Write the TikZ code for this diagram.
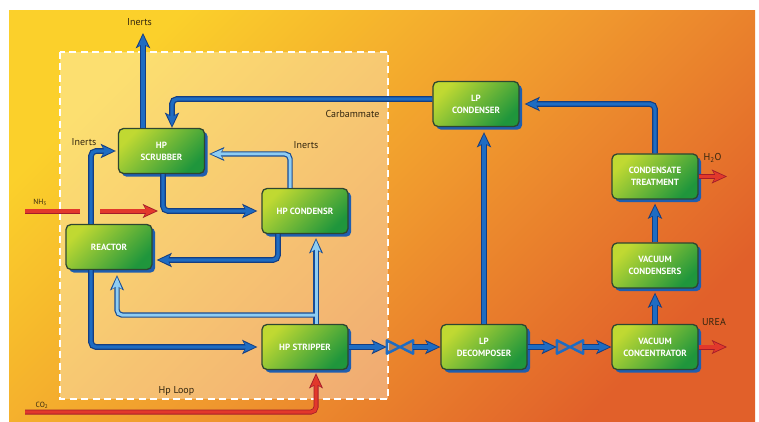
\documentclass[tikz,border=0pt]{standalone}
\usepackage{fontspec}
\setmainfont{PT Sans}
\usetikzlibrary{arrows.meta,shadows,calc}

\definecolor{flowblue}{HTML}{1E6CC2}
\definecolor{flowdark}{HTML}{143E82}
\definecolor{lightflow}{HTML}{8FCDF2}
\definecolor{redflow}{HTML}{E2382B}
\definecolor{reddark}{HTML}{A31C2A}
\definecolor{boxlight}{HTML}{C0D932}
\definecolor{boxdark}{HTML}{1F963C}
\definecolor{boxedge}{HTML}{2E4630}
\definecolor{shadowblue}{HTML}{1F5EB0}
\definecolor{labeltext}{HTML}{33260F}
\definecolor{bgyellow}{HTML}{FBD02B}
\definecolor{bgmid}{HTML}{F09A2E}
\definecolor{bgorange}{HTML}{E1602A}

\tikzset{
  box/.style={rectangle, rounded corners=5pt, draw=boxedge, line width=1.3pt,
    minimum width=86pt, minimum height=45pt, inner sep=1pt,
    top color=boxlight, bottom color=boxdark, shading angle=45,
    text=white, font=\bfseries\fontsize{9}{11.8}\selectfont, align=center,
    general shadow={fill=shadowblue, shadow xshift=3.2pt, shadow yshift=-3.2pt}},
  valve/.style={rectangle, minimum width=26pt, minimum height=13pt, inner sep=0pt},
  valveline/.style={draw=flowblue, line width=2.4pt, line join=round, fill=flowblue, fill opacity=0.2},
  lbl/.style={text=labeltext, font=\fontsize{10}{12}\selectfont, inner sep=0pt},
  small/.style={text=labeltext, font=\fontsize{7.5}{9}\selectfont, inner sep=0pt},
  bout/.style={draw=flowdark, line width=5.8pt, rounded corners=5pt,
    -{Stealth[length=15pt,width=14pt,inset=3.5pt]}},
  bin/.style={draw=flowblue, line width=3.4pt, rounded corners=5pt,
    -{Stealth[length=11.5pt,width=10pt,inset=2.6pt]}},
  lout/.style={draw=flowdark!70!flowblue, line width=5.4pt, rounded corners=5pt,
    -{Stealth[length=15pt,width=13.5pt,inset=3.5pt]}},
  lin/.style={draw=lightflow, line width=3pt, rounded corners=5pt,
    -{Stealth[length=11.5pt,width=9.5pt,inset=2.6pt]}},
  rout/.style={draw=reddark, line width=5pt, rounded corners=5pt,
    -{Stealth[length=15pt,width=13.5pt,inset=3.5pt]}},
  rin/.style={draw=redflow, line width=3.4pt, rounded corners=5pt,
    -{Stealth[length=11.5pt,width=10pt,inset=2.6pt]}},
}

\newcommand\bflow[2][0]{%
  \draw[bout, shorten >=#1pt] #2;
  \draw[bin, shorten >=#1pt+1.9pt] #2;}
\newcommand\lflow[2][0]{%
  \draw[lout, shorten >=#1pt] #2;
  \draw[lin, shorten >=#1pt+1.9pt] #2;}
\newcommand\rflow[2][0]{%
  \draw[rout, shorten >=#1pt] #2;
  \draw[rin, shorten >=#1pt+1.9pt] #2;}

\begin{document}
\begin{tikzpicture}[x=1pt,y=-1pt]
\useasboundingbox (0,0) rectangle (759,422);
\fill[white] (0,0) rectangle (759,422);
\shade[top color=bgyellow, bottom color=bgorange, middle color=bgmid, shading angle=45]
  (9,11) rectangle (755,422);

% HP loop area
\draw[white, line width=2.6pt, dash pattern=on 7pt off 4.5pt, fill=white, fill opacity=0.33]
  (60,52) rectangle (388,399);

% equipment
\node[box] (scrub) at (161.5,151) {HP\\SCRUBBER};
\node[box] (cond)  at (305,211) {HP CONDENSR};
\node[box] (reac)  at (109,247) {REACTOR};
\node[box] (strip) at (305,347) {HP STRIPPER};
\node[box] (lpc)   at (476,104) {LP\\CONDENSER};
\node[box] (ct)    at (655,176.5) {CONDENSATE\\TREATMENT};
\node[box] (vcd)   at (655,265.5) {VACUUM\\CONDENSERS};
\node[box] (lpd)   at (484,347) {LP\\DECOMPOSER};
\node[box] (vcc)   at (655,347) {VACUUM\\CONCENTRATOR};

% valves
\node[valve] (v1) at (400,347) {};
\node[valve] (v2) at (570,347) {};
\draw[valveline] (v1.north west) -- (v1.south east) -- (v1.north east) -- (v1.south west) -- cycle;
\draw[valveline] (v2.north west) -- (v2.south east) -- (v2.north east) -- (v2.south west) -- cycle;

% coordinates
\coordinate (inTop) at (143,33);
\coordinate (carb) at (172,99);
\coordinate (rsA) at (91,151);
\coordinate (scA) at (163,211);
\coordinate (csA) at (290,154);
\coordinate (crA) at (278,260);
\coordinate (scX) at (316,315);
\coordinate (brA) at (117,315);
\coordinate (h2o) at (727,176.5);
\coordinate (urea) at (727,347);
\coordinate (nhA) at (25,211);
\coordinate (nhB) at (80,211);
\coordinate (nhC) at (100,211);
\coordinate (nhD) at (158,211);
\coordinate (coA) at (25,412);
\coordinate (coB) at (316,412);

% blue flows
\bflow{(scrub.north -| inTop) -- (inTop)}
\bflow{(lpc.west |- carb) -- (carb) -- (scrub.north -| carb)}
\bflow[2]{(reac.north -| rsA) -- (rsA) -- (scrub.west)}
\bflow[4]{(scrub.south -| scA) -- (scA) -- (cond.west)}
\lflow[4]{(cond.north -| csA) -- (csA) -- (scrub.east |- csA)}
\bflow[4]{(cond.south -| crA) -- (crA) -- (reac.east |- crA)}
\draw[lout, shorten >=4pt] (strip.north -| scX) -- (cond.south -| scX);
\draw[lout, shorten >=5pt] (scX) -- (brA) -- (reac.south -| brA);
\draw[lin, shorten >=5.9pt] (strip.north -| scX) -- (cond.south -| scX);
\draw[lin, shorten >=6.9pt] (scX) -- (brA) -- (reac.south -| brA);
\bflow[4]{(reac.south -| rsA) |- (strip.west)}
\bflow{(strip.east) -- (v1.west)}
\bflow{(v1.east) -- (lpd.west)}
\bflow[5]{(lpd.north) -- (lpd.north |- lpc.south)}
\bflow{(lpd.east) -- (v2.west)}
\bflow{(v2.east) -- (vcc.west)}
\bflow[4]{(vcc.north) -- (vcd.south)}
\bflow[4]{(vcd.north) -- (ct.south)}
\bflow[5]{(ct.north) |- (lpc.east)}

% red flows
\rflow{(ct.east) -- (h2o)}
\rflow{(vcc.east) -- (urea)}
\draw[rout, -] (nhA) -- (nhB);
\draw[rin, -] (nhA) -- (nhB);
\rflow{(nhC) -- (nhD)}
\rflow[3]{(coA) -- (coB) -- (strip.south -| coB)}

% labels
\node[lbl] (tInTop) at (139.5,22) {Inerts};
\node[lbl] (tCarb) at (352.5,114) {Carbammate};
\node[lbl] (tInL) at (84,142) {Inerts};
\node[lbl] (tInR) at (306,145) {Inerts};
\node[small] (tNH) at (40,202) {NH\textsubscript{3}};
\node[small] (tCO) at (42,405) {CO\textsubscript{2}};
\node[lbl] (tLoop) at (176.5,391) {Hp Loop};
\node[lbl] (tH2O) at (712.5,158) {H\textsubscript{2}O};
\node[lbl] (tUrea) at (714,322) {UREA};
\end{tikzpicture}
\end{document}
